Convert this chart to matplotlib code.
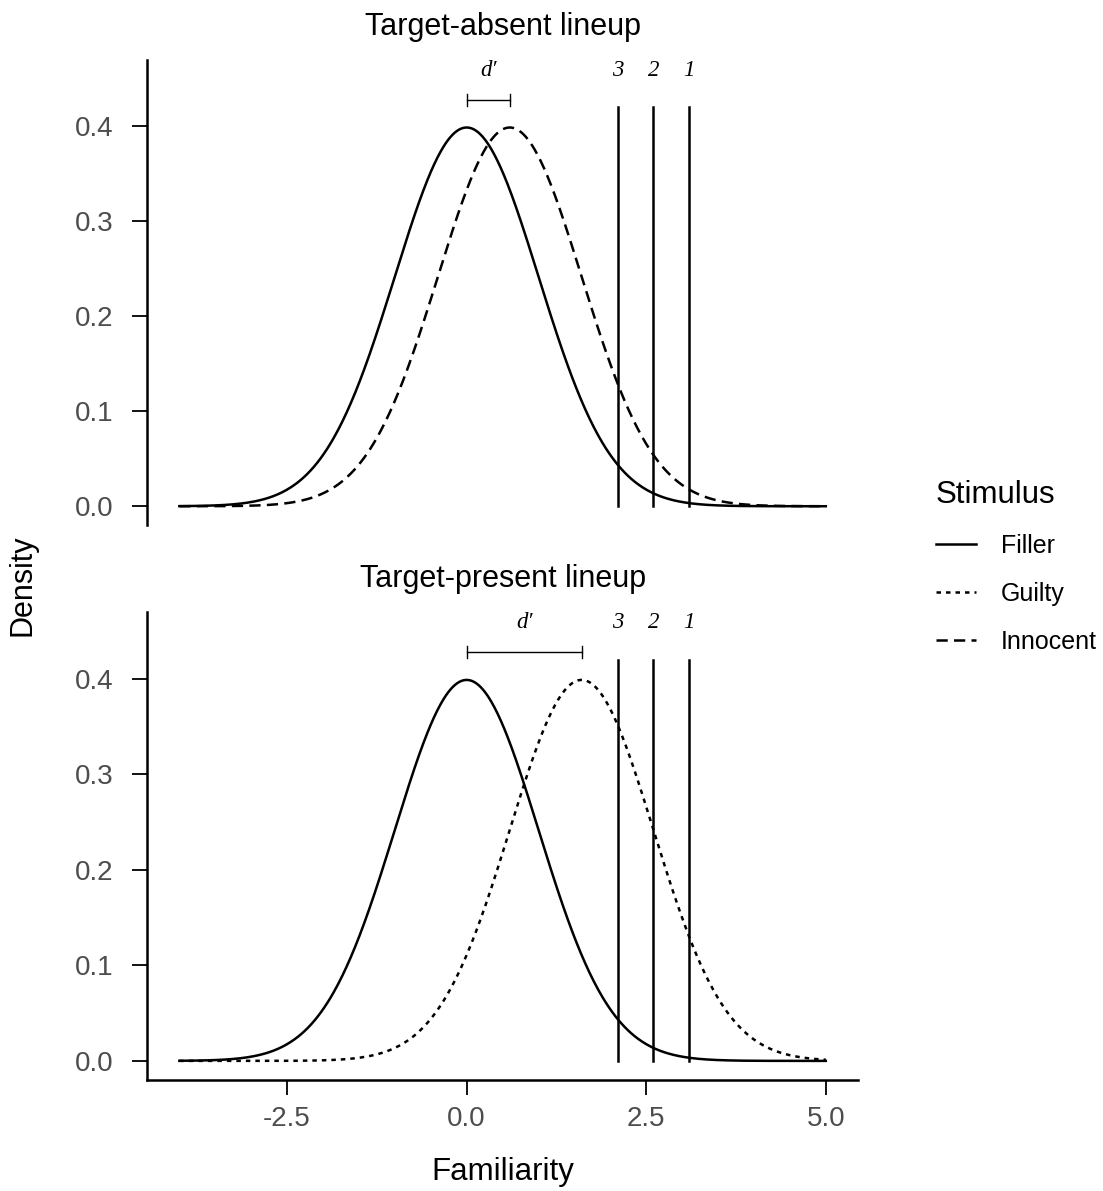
import numpy as np
import matplotlib
matplotlib.use("Agg")
import matplotlib.pyplot as plt
from matplotlib.lines import Line2D

# distribution parameters
filler_mean = 0.0
innocent_mean = 0.6
guilty_mean = 1.6
criteria = [2.1, 2.6, 3.1]
criteria_labels = ["3", "2", "1"]
x_ticks = [-2.5, 0.0, 2.5, 5.0]
y_ticks = [0.0, 0.1, 0.2, 0.3, 0.4]

x = np.linspace(-4, 5, 600)


def dnorm(v, m):
    return np.exp(-0.5 * (v - m) ** 2) / np.sqrt(2 * np.pi)


plt.rcParams['font.family'] = ['Liberation Sans', 'DejaVu Sans']
fig = plt.figure(figsize=(11.03, 11.91), dpi=100)
ax1 = fig.add_axes([0.1333, 0.559, 0.6447, 0.3906])
ax2 = fig.add_axes([0.1333, 0.0932, 0.6447, 0.3929])

grey = '#4D4D4D'
serif = dict(family='Liberation Serif', style='italic', fontsize=16.5)
dashed = (0, (4.5, 2.5))
dotted = (0, (1.8, 2.0))

panels = [
    (ax1, innocent_mean, dashed, 'Target-absent lineup'),
    (ax2, guilty_mean, dotted, 'Target-present lineup'),
]
for ax, m2, ls2, title in panels:
    ax.plot(x, dnorm(x, filler_mean), color='black', lw=1.8)
    ax.plot(x, dnorm(x, m2), color='black', lw=1.8, linestyle=ls2)
    for c, lab in zip(criteria, criteria_labels):
        ax.plot([c, c], [0, 0.42], color='black', lw=1.8)
        ax.text(c, 0.459, lab, ha='center', va='center', **serif)
    # d' bracket
    ax.plot([filler_mean, m2], [0.428, 0.428], color='black', lw=1.0)
    for e in (filler_mean, m2):
        ax.plot([e, e], [0.422, 0.434], color='black', lw=1.0)
    ax.text((filler_mean + m2) / 2, 0.459, "d\u2032", ha='center', va='center', **serif)

    ax.set_xlim(-4.45, 5.45)
    ax.set_ylim(-0.02, 0.47)
    ax.set_yticks(y_ticks)
    ax.set_yticklabels([f'{v:.1f}' for v in y_ticks], color=grey, fontsize=20)
    ax.tick_params(axis='y', length=11, width=1.3, color='black', pad=13)
    for s in ['top', 'right']:
        ax.spines[s].set_visible(False)
    ax.spines['left'].set_linewidth(1.8)
    ax.set_title(title, fontsize=22, pad=18)

ax1.spines['bottom'].set_visible(False)
ax1.set_xticks([])
ax2.spines['bottom'].set_linewidth(1.8)
ax2.set_xticks(x_ticks)
ax2.set_xticklabels([f'{v:.1f}' for v in x_ticks], color=grey, fontsize=20)
ax2.tick_params(axis='x', length=11, width=1.3, color='black', pad=8)
ax2.set_xlabel('Familiarity', fontsize=22.5, labelpad=18)

fig.text(0.02, 0.509, 'Density', rotation=90, ha='center', va='center', fontsize=22)

handles = [
    Line2D([], [], color='black', lw=1.8),
    Line2D([], [], color='black', lw=1.8, linestyle=dotted),
    Line2D([], [], color='black', lw=1.8, linestyle=dashed),
]
fig.legend(handles, ['Filler', 'Guilty', 'Innocent'], title='Stimulus',
           loc='center left', bbox_to_anchor=(0.828, 0.524), frameon=False,
           fontsize=18, title_fontsize=22.5, handlelength=1.6, handletextpad=1.0,
           labelspacing=0.95, alignment='left')

fig.savefig('out.png', dpi=100)
